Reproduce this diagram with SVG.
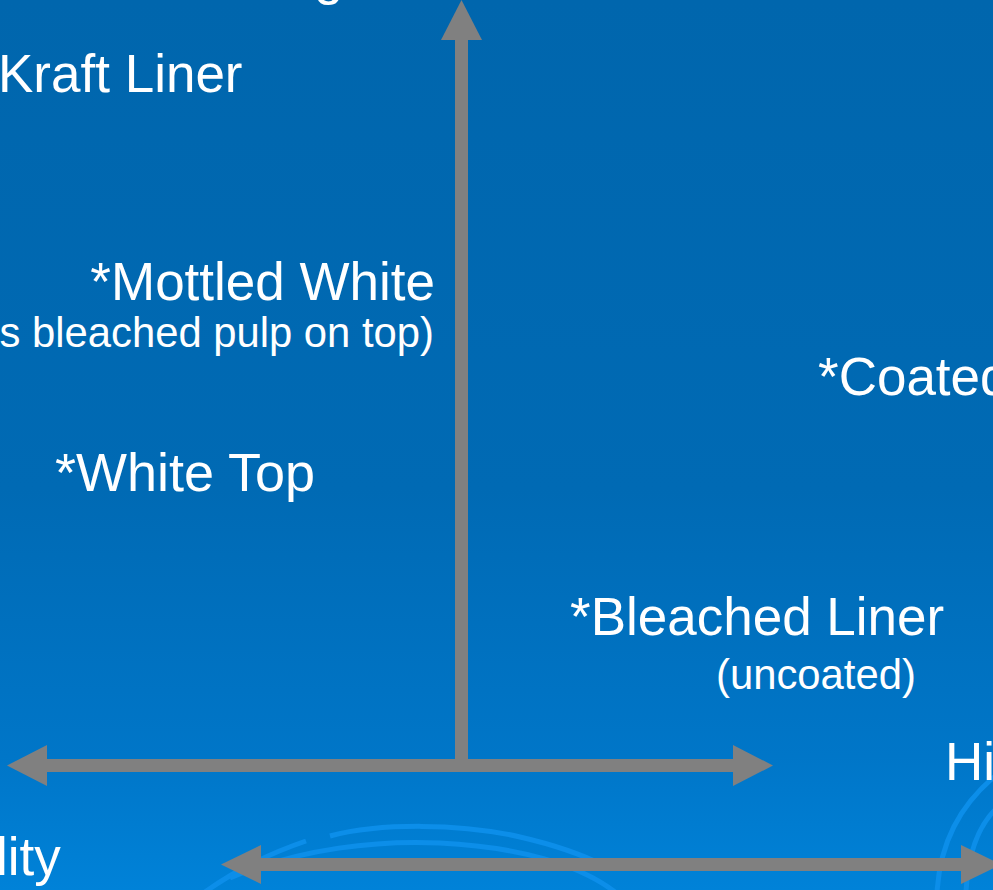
<svg xmlns="http://www.w3.org/2000/svg" width="993" height="890" viewBox="0 0 993 890">
  <defs>
    <linearGradient id="bg" x1="0" y1="0" x2="0" y2="1">
      <stop offset="0" stop-color="#0066ad"/>
      <stop offset="0.55" stop-color="#006ab4"/>
      <stop offset="0.85" stop-color="#0076c8"/>
      <stop offset="1" stop-color="#0082d8"/>
    </linearGradient>
    <style>
      .lbl { font-family: "Liberation Sans", Arial, sans-serif; fill: #ffffff; font-size: 53px; }
      .sub { font-family: "Liberation Sans", Arial, sans-serif; fill: #ffffff; font-size: 41.8px; }
      .arc { fill: none; stroke: #0c8ee9; stroke-width: 5; }
      .axis { fill: #808080; }
    </style>
  </defs>
  <rect x="0" y="0" width="993" height="890" fill="url(#bg)"/>
  <g id="background-arcs">
    <path class="arc" d="M 205 892 Q 250 860 306 841"/>
    <path class="arc" d="M 330 836 C 380 823 460 823 520 837 C 555 845 585 856 605 866"/>
    <path class="arc" d="M 230 878 C 300 848 380 840 440 843 C 520 847 580 865 615 892"/>
    <path class="arc" d="M 937 892 C 940 845 958 805 1000 772"/>
    <path class="arc" d="M 966 892 C 968 852 980 822 1000 805"/>
  </g>
  <g id="connectors">
    <rect class="axis" x="455" y="38" width="13" height="730"/>
    <polygon class="axis" points="441,40 461.5,0 482,40"/>
    <rect class="axis" x="46" y="759" width="688" height="13"/>
    <polygon class="axis" points="47,745 7,765.5 47,786"/>
    <polygon class="axis" points="733,745 773,765.5 733,786"/>
    <rect class="axis" x="260" y="858" width="702" height="13"/>
    <polygon class="axis" points="261,845 221,864.5 261,884"/>
    <polygon class="axis" points="961,845 1001,864.5 961,884"/>
  </g>
  <g id="title-fragment"><text class="lbl" x="314" y="-6">g</text></g>
  <g id="kraft-liner"><text class="lbl" x="-2" y="92">Kraft Liner</text></g>
  <g id="mottled-white">
    <text class="lbl" x="435" y="300" text-anchor="end">*Mottled White</text>
    <text class="sub" x="434" y="347" text-anchor="end">s bleached pulp on top)</text>
  </g>
  <g id="white-top"><text class="lbl" x="55" y="491" style="font-size:54px">*White Top</text></g>
  <g id="coated"><text class="lbl" x="818" y="395">*Coated</text></g>
  <g id="bleached-liner">
    <text class="lbl" x="570" y="635">*Bleached Liner</text>
    <text class="sub" x="716" y="689">(uncoated)</text>
  </g>
  <g id="high-label"><text class="lbl" x="945" y="780">Hi</text></g>
  <g id="low-label"><text class="lbl" x="-4" y="875">lity</text></g>
</svg>
